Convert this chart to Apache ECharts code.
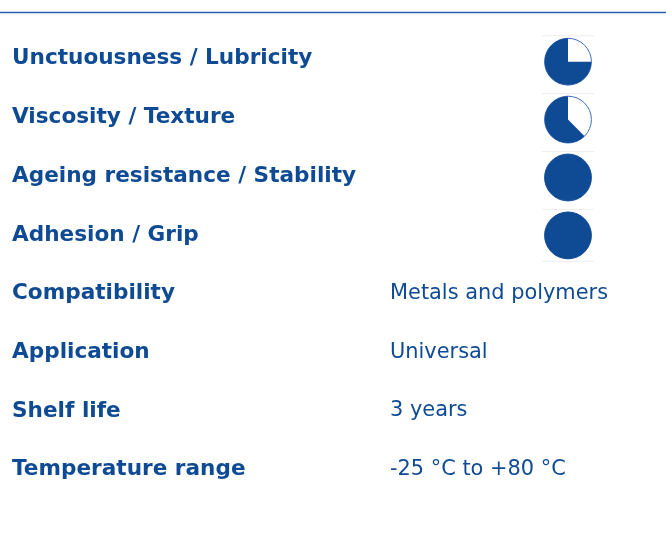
<!DOCTYPE html>
<html>
<head>
<meta charset="utf-8">
<script src="https://cdn.jsdelivr.net/npm/echarts@6/dist/echarts.min.js"></script>
<style>html,body{margin:0;padding:0;background:#fff}#c{width:666px;height:540px}</style>
</head>
<body>
<div id="c"></div>
<script>
var properties = ['Unctuousness / Lubricity','Viscosity / Texture','Ageing resistance / Stability','Adhesion / Grip','Compatibility','Application','Shelf life','Temperature range'];
var ratingNames = ['Unctuousness / Lubricity','Viscosity / Texture','Ageing resistance / Stability','Adhesion / Grip'];
var ratingValues = [0.75,0.625,1,1];
var textRows = [4,5,6,7];
var textValues = ['Metals and polymers','Universal','3 years','-25 °C to +80 °C'];

var BLUE = '#0f4a94';
var FONT = 'DejaVu Sans';
var chart = echarts.init(document.getElementById('c'), null, {renderer:'canvas'});
var ballX = 568, textX = 390, R = 23.4;

chart.setOption({
  animation:false,
  grid:[{left:0,right:0,top:29.5,bottom:40.9},{left:0,right:0,top:32.75,bottom:275.65}],
  xAxis:[{type:'value',min:0,max:666,show:false},{type:'value',min:0,max:666,show:false,gridIndex:1}],
  yAxis:[{type:'category',inverse:true,data:properties,
    axisLine:{show:false},axisTick:{show:false},splitLine:{show:false},
    axisLabel:{inside:true,margin:12,align:'left',color:BLUE,fontFamily:FONT,fontWeight:'bold',fontSize:21.6}},
    {type:'category',inverse:true,data:ratingNames,gridIndex:1,show:false}],
  graphic:[{type:'line',shape:{x1:0,y1:12.5,x2:666,y2:12.5},style:{stroke:'#2d5fae',lineWidth:1.5},silent:true}],
  series:[
    {type:'custom',xAxisIndex:1,yAxisIndex:1,
     data:ratingNames.map(function(n,i){return [ballX,i,ratingValues[i]];}),
     renderItem:function(params,api){
       var p = api.coord([api.value(0),api.value(1)]);
       var h = api.size([0,1])[1];
       var v = api.value(2);
       var children = [
         {type:'line',shape:{x1:p[0]-26,y1:p[1]-h/2+3,x2:p[0]+26,y2:p[1]-h/2+3},style:{stroke:'#eeeeee',lineWidth:1}},
         {type:'circle',shape:{cx:p[0],cy:p[1],r:R},style:{fill:v>=1?BLUE:'#fff',stroke:v>=1?BLUE:'#3f6fbf',lineWidth:1}}
       ];
       if(params.dataIndex===ratingNames.length-1){
         children.push({type:'line',shape:{x1:p[0]-26,y1:p[1]+h/2-3,x2:p[0]+26,y2:p[1]+h/2-3},style:{stroke:'#eeeeee',lineWidth:1}});
       }
       if(v<1){
         var s = -Math.PI/2, e = s - v*2*Math.PI;
         children.push({type:'sector',shape:{cx:p[0],cy:p[1],r0:0,r:R,startAngle:e,endAngle:s,clockwise:true},style:{fill:BLUE}});
       }
       return {type:'group',children:children};
     }},
    {type:'scatter',symbolSize:0,itemStyle:{opacity:1},
     data:textRows.map(function(r,i){return {value:[textX,r],name:textValues[i]};}),
     label:{show:true,position:'inside',align:'left',formatter:'{b}',color:BLUE,opacity:1,fontFamily:FONT,fontSize:20.9}}
  ]
});
</script>
</body>
</html>
